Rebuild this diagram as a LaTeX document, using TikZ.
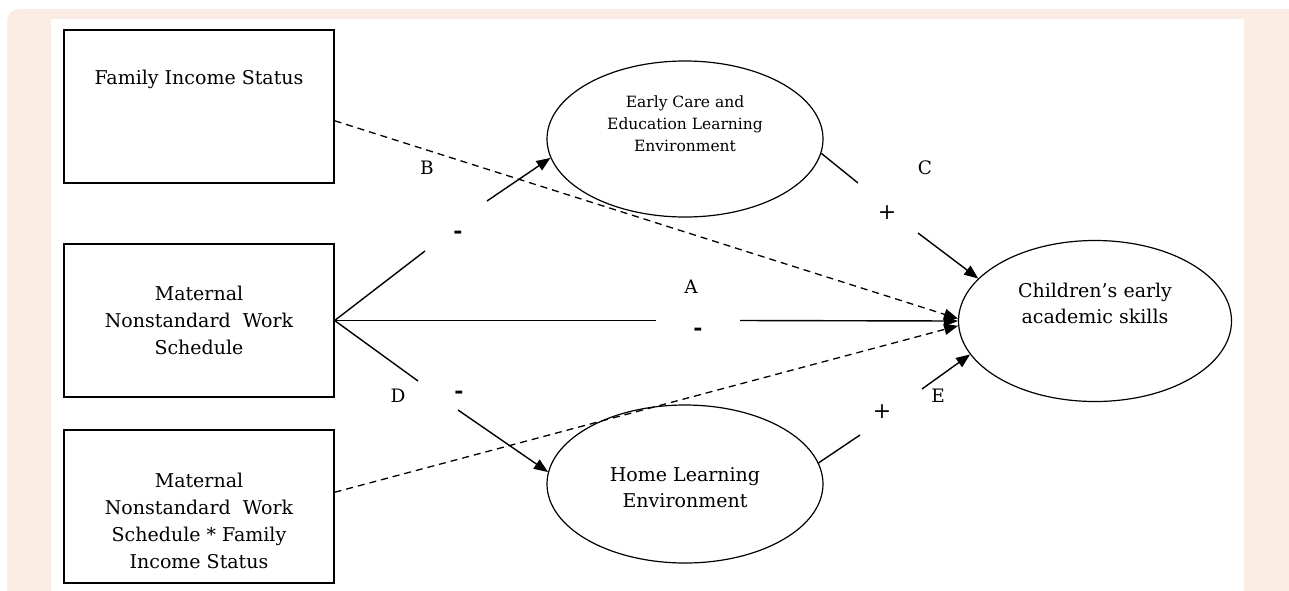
\documentclass[tikz,border=0pt]{standalone}
\usepackage{fontspec}
\setmainfont{DejaVu Serif}
\usetikzlibrary{shapes.geometric, arrows.meta}
\definecolor{peach}{RGB}{251,237,227}
\begin{document}
\begin{tikzpicture}[x=1pt, y=-1pt,
  box/.style={draw, line width=1.3pt, minimum width=270pt, minimum height=153pt, inner sep=0pt},
  oval/.style={draw, ellipse, line width=1.2pt, inner sep=0pt},
  txt/.style={align=center, inner sep=0pt, font=\fontsize{19}{27}\selectfont},
  smalltxt/.style={align=center, inner sep=0pt, font=\fontsize{15.5}{22}\selectfont},
  lbl/.style={inner sep=0pt, font=\fontsize{18.5}{24}\selectfont},
  sign/.style={inner sep=0pt, font=\fontsize{22}{24}\selectfont\bfseries},
  conn/.style={line width=1.4pt},
  tip/.style={-{Triangle[length=14pt,width=11pt]}},
  dashline/.style={line width=1.3pt, dash pattern=on 7pt off 5pt}
]
\useasboundingbox (0,0) rectangle (1289,590);
\fill[peach, rounded corners=12pt] (7,9) rectangle (1310,620);
\fill[white] (51,19) rectangle (1244,600);

% boxes
\node[box] (fam) at (199,106.5) {};
\node[box] (mat) at (199,320.5) {};
\node[box] (int) at (199,506.5) {};
\node[txt] (famt) at (199,79) {Family Income Status};
\node[txt] (matt) at (199,320.5) {Maternal\\Nonstandard\ \ Work\\Schedule};
\node[txt] (intt) at (199,521) {Maternal\\Nonstandard\ \ Work\\Schedule * Family\\Income Status};

% ellipses
\node[oval, minimum width=276pt, minimum height=156pt] (ec) at (685,139) {};
\node[oval, minimum width=276pt, minimum height=158pt] (hl) at (685,484) {};
\node[oval, minimum width=273pt, minimum height=161pt] (chi) at (1095,321) {};
\node[smalltxt] (ect) at (685,124) {Early Care and\\Education Learning\\Environment};
\node[txt, font=\fontsize{19}{26}\selectfont] (hlt) at (685,488) {Home Learning\\Environment};
\node[txt, font=\fontsize{19}{26}\selectfont] (chit) at (1095,303) {Children’s\ early\\academic skills};

% gap coordinates
\coordinate (gE1) at (425,251);
\coordinate (gE2) at (487,201);
\coordinate (gA1) at (656,320.5);
\coordinate (gA2) at (740,320.5);
\coordinate (gD1) at (418,381);
\coordinate (gD2) at (458,410);
\coordinate (gC1) at (858,183);
\coordinate (gC2) at (918,233);
\coordinate (gF1) at (860,435);
\coordinate (gF2) at (922,389);

% dashed paths
\draw[dashline, tip] (fam.354) -- (chi.179);
\draw[dashline, tip] (int.6) -- (chi.182);

% solid paths
\draw[conn] (mat.east) -- (gE1);
\draw[conn, tip] (gE2) -- (ec.188);
\draw[conn] (mat.east) -- (gA1);
\draw[conn, tip] (gA2) -- (chi.west);
\draw[conn] (mat.east) -- (gD1);
\draw[conn, tip] (gD2) -- (hl.175);
\draw[conn] (ec.354) -- (gC1);
\draw[conn, tip] (gC2) -- (chi.160);
\draw[conn] (hl.9) -- (gF1);
\draw[conn, tip] (gF2) -- (chi.195);

% labels
\node[lbl] (lB) at (427,168) {B};
\node[lbl] (lA) at (691,287) {A};
\node[lbl] (lC) at (925,168) {C};
\node[lbl] (lD) at (398,396) {D};
\node[lbl] (lE) at (938,396) {E};
\node[sign] (s1) at (458,235) {-};
\node[sign] (s2) at (698,332) {-};
\node[sign] (s3) at (459,395) {-};
\node[lbl, font=\fontsize{22}{24}\selectfont] (p1) at (887,213) {+};
\node[lbl, font=\fontsize{22}{24}\selectfont] (p2) at (882,412) {+};
\end{tikzpicture}
\end{document}
